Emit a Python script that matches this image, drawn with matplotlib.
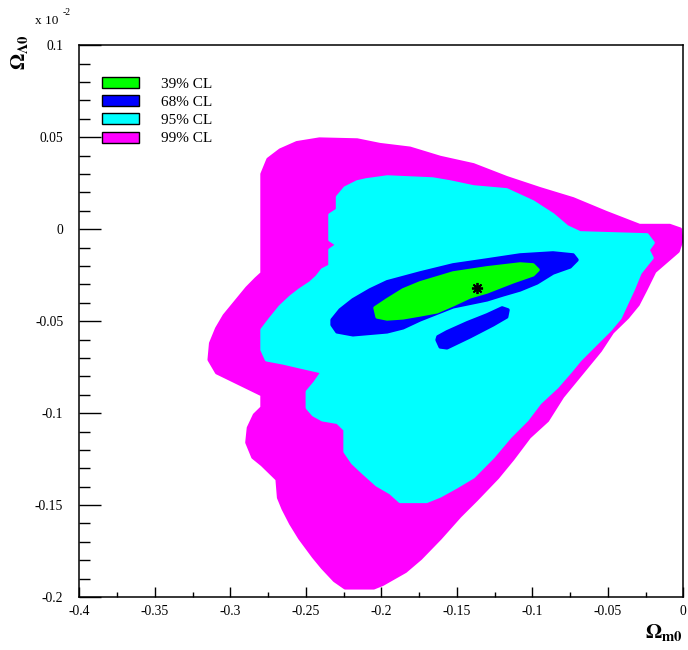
import matplotlib
matplotlib.use('Agg')
import matplotlib.pyplot as plt
from matplotlib.patches import Patch
from matplotlib.ticker import MultipleLocator

plt.rcParams['font.family'] = ['Liberation Serif', 'DejaVu Serif']
plt.rcParams['mathtext.fontset'] = 'stix'
plt.rcParams['axes.unicode_minus'] = False

# contour boundaries, Omega_m0 vs Omega_Lambda0 (y in units of 1e-2)
cl99_x = [-0.279, -0.275, -0.267, -0.256, -0.241, -0.216, -0.201, -0.181, -0.161, -0.139,
          -0.117, -0.095, -0.073, -0.051, -0.029, -0.009, -0.002, -0.001, -0.0035, -0.019,
          -0.025, -0.030, -0.037, -0.047, -0.055, -0.064, -0.070, -0.080, -0.090, -0.102,
          -0.113, -0.123, -0.137, -0.148, -0.161, -0.174, -0.184, -0.199, -0.205, -0.224,
          -0.231, -0.239, -0.245, -0.254, -0.260, -0.265, -0.268, -0.269, -0.274, -0.279,
          -0.285, -0.289, -0.288, -0.284, -0.279, -0.279, -0.289, -0.299, -0.309, -0.314,
          -0.313, -0.309, -0.304, -0.297, -0.289, -0.283, -0.279]
cl99_y = [0.030, 0.038, 0.043, 0.047, 0.049, 0.0485, 0.046, 0.044, 0.039, 0.035,
          0.028, 0.022, 0.0165, 0.009, 0.002, 0.002, 0.000, -0.006, -0.012, -0.023,
          -0.033, -0.041, -0.048, -0.056, -0.066, -0.075, -0.081, -0.091, -0.104, -0.113,
          -0.125, -0.135, -0.147, -0.156, -0.168, -0.179, -0.186, -0.193, -0.195, -0.195,
          -0.191, -0.184, -0.178, -0.168, -0.160, -0.152, -0.146, -0.136, -0.132, -0.128,
          -0.124, -0.116, -0.108, -0.101, -0.097, -0.090, -0.086, -0.082, -0.078, -0.071,
          -0.062, -0.054, -0.047, -0.040, -0.032, -0.027, -0.024]

cl95_x = [-0.229, -0.224, -0.216, -0.210, -0.196, -0.166, -0.1545, -0.139, -0.117, -0.0995,
          -0.0863, -0.077, -0.0684, -0.024, -0.020, -0.0234, -0.0207, -0.024, -0.0287, -0.0333,
          -0.0373, -0.0419, -0.0485, -0.0572, -0.0684, -0.075, -0.0836, -0.095, -0.1035, -0.1148,
          -0.126, -0.139, -0.150, -0.161, -0.170, -0.1876, -0.194, -0.203, -0.212, -0.219,
          -0.224, -0.224, -0.229, -0.239, -0.245, -0.249, -0.249, -0.244, -0.239, -0.254,
          -0.265, -0.276, -0.279, -0.279, -0.274, -0.267, -0.260, -0.254, -0.247, -0.2426,
          -0.239, -0.234, -0.234, -0.229, -0.234, -0.234, -0.229]
cl95_y = [0.0175, 0.0224, 0.0257, 0.0268, 0.0284, 0.0273, 0.0257, 0.0230, 0.0214, 0.0148,
          0.0078, 0.0013, -0.002, -0.0031, -0.0074, -0.0113, -0.0156, -0.0189, -0.0238, -0.033,
          -0.040, -0.0482, -0.0547, -0.0618, -0.071, -0.0776, -0.0857, -0.0944, -0.1036, -0.1129,
          -0.1238, -0.1346, -0.140, -0.145, -0.148, -0.148, -0.1433, -0.139, -0.1324, -0.127,
          -0.121, -0.109, -0.105, -0.1036, -0.1009, -0.0971, -0.0884, -0.0835, -0.0776, -0.0748,
          -0.0727, -0.071, -0.0656, -0.0547, -0.0493, -0.0422, -0.0368, -0.033, -0.0292, -0.0259,
          -0.0221, -0.020, -0.0113, -0.0085, -0.0058, 0.0078, 0.0105]

cl68_x = [-0.2326, -0.2273, -0.2188, -0.2075, -0.1962, -0.1744, -0.1525, -0.130, -0.1081, -0.0863,
          -0.073, -0.0704, -0.075, -0.0863, -0.0969, -0.1081, -0.1194, -0.130, -0.1525, -0.1744,
          -0.1856, -0.1962, -0.2188, -0.2294, -0.2326]
cl68_y = [-0.0493, -0.0439, -0.0384, -0.033, -0.0286, -0.0238, -0.0194, -0.0167, -0.014, -0.0129,
          -0.014, -0.0167, -0.0205, -0.0238, -0.0292, -0.033, -0.0357, -0.0384, -0.0422, -0.0493,
          -0.0536, -0.0558, -0.0574, -0.0558, -0.052]

cl68b_x = [-0.1631, -0.161, -0.1565, -0.1413, -0.126, -0.117, -0.1161, -0.120, -0.130, -0.1432,
           -0.1565, -0.1625]
cl68b_y = [-0.0602, -0.064, -0.0645, -0.0585, -0.052, -0.0477, -0.0439, -0.0428, -0.0466, -0.0509,
           -0.0558, -0.0585]

cl39_x = [-0.2028, -0.2042, -0.1962, -0.1856, -0.1744, -0.1525, -0.130, -0.1081, -0.0995, -0.0962,
          -0.0995, -0.1128, -0.130, -0.1413, -0.1525, -0.1631, -0.1744, -0.1856, -0.1962]
cl39_y = [-0.0477, -0.0428, -0.0384, -0.033, -0.0292, -0.0238, -0.021, -0.0189, -0.0194, -0.0221,
          -0.0248, -0.0286, -0.0341, -0.0368, -0.0411, -0.0449, -0.0466, -0.0482, -0.0488]

best_fit = (-0.1366, -0.0319)

cl_labels = ['39% CL', '68% CL', '95% CL', '99% CL']
cl_colors = ['#00ff00', '#0000ff', '#00ffff', '#ff00ff']

x_ticks = [-0.4, -0.35, -0.3, -0.25, -0.2, -0.15, -0.1, -0.05, 0]
x_tick_labels = ['-0.4', '-0.35', '-0.3', '-0.25', '-0.2', '-0.15', '-0.1', '-0.05', '0']
y_ticks = [0.1, 0.05, 0, -0.05, -0.1, -0.15, -0.2]
y_tick_labels = ['0.1', '0.05', '0', '-0.05', '-0.1', '-0.15', '-0.2']


fig = plt.figure(figsize=(6.88, 6.5), dpi=100)
ax = fig.add_axes([0.1153, 0.0815, 0.8779, 0.8488])

# outer regions first, inner ones on top
for xs, ys, c in [(cl99_x, cl99_y, cl_colors[3]), (cl95_x, cl95_y, cl_colors[2]),
                  (cl68_x, cl68_y, cl_colors[1]), (cl68b_x, cl68b_y, cl_colors[1]),
                  (cl39_x, cl39_y, cl_colors[0])]:
    ax.fill(xs, ys, facecolor=c, edgecolor=c, linewidth=2.5, joinstyle='round')

ax.plot(best_fit[0], best_fit[1], marker=(8, 2, 0), color='black', markersize=8, mew=1.3)

ax.set_xlim(-0.4, 0)
ax.set_ylim(-0.2, 0.1)
ax.set_xticks(x_ticks)
ax.set_xticklabels(x_tick_labels)
ax.set_yticks(y_ticks)
ax.set_yticklabels(y_tick_labels)
ax.xaxis.set_minor_locator(MultipleLocator(0.025))
ax.yaxis.set_minor_locator(MultipleLocator(0.01))

ax.tick_params(axis='y', which='major', direction='in', length=16, width=1, pad=11.5, labelsize=9.8)
ax.tick_params(axis='y', which='minor', direction='in', length=8, width=1)
ax.tick_params(axis='x', which='major', direction='in', length=7, width=1, pad=6, labelsize=9.8)
ax.tick_params(axis='x', which='minor', direction='in', length=3.5, width=1)
for s in ax.spines.values():
    s.set_linewidth(1.1)

fig.text(35 / 688, 1 - 24 / 650, 'x 10', fontsize=9.5, ha='left', va='baseline')
fig.text(63 / 688, 1 - 15 / 650, '-2', fontsize=7, ha='left', va='baseline')
fig.text(20 / 688, 1 - 52 / 650, r'$\mathbf{\Omega_{\Lambda 0}}$', fontsize=15,
         rotation=90, ha='center', va='center')
fig.text(683 / 688, 1 - 638 / 650, r'$\mathbf{\Omega_{m0}}$', fontsize=15,
         ha='right', va='baseline')

handles = [Patch(facecolor=c, edgecolor='black', linewidth=1) for c in cl_colors]
ax.legend(handles, cl_labels, loc='upper left', bbox_to_anchor=(0.0376, 0.9426),
          frameon=False, fontsize=11, borderpad=0, borderaxespad=0,
          handlelength=2.4, handleheight=0.72, handletextpad=1.45, labelspacing=0.29)

fig.savefig('out.png', dpi=100)
